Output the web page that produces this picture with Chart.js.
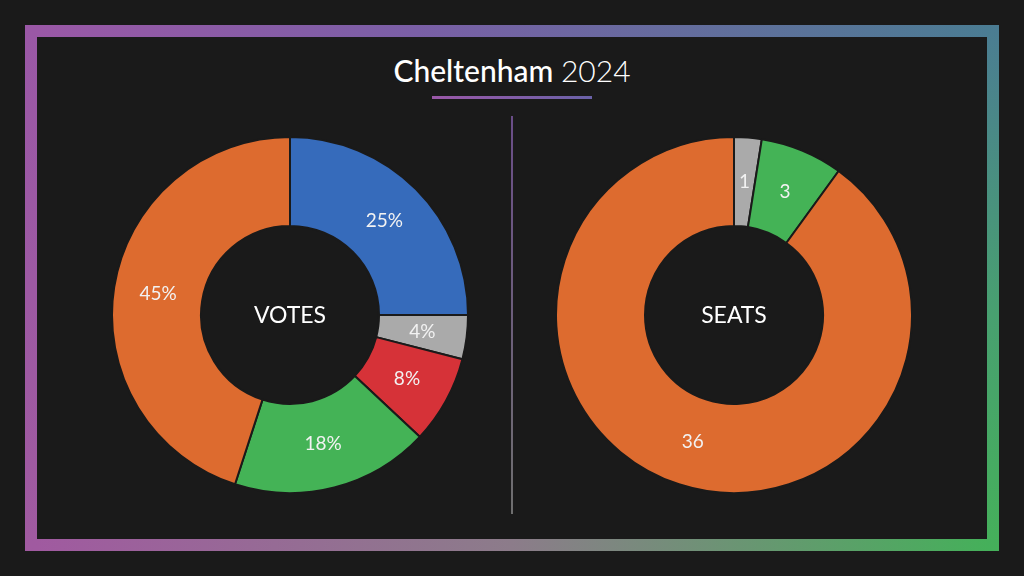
<!DOCTYPE html>
<html>
<head>
<meta charset="utf-8">
<script src="https://cdn.jsdelivr.net/npm/chart.js@4.4.0/dist/chart.umd.min.js"></script>
<style>
  html, body { margin: 0; padding: 0; background: #1a1a1a; }
  body { width: 1024px; height: 576px; position: relative; overflow: hidden; font-family: "Lato", "Open Sans", sans-serif; }
  .edge { position: absolute; }
  .top { left: 37px; top: 25px; width: 950px; height: 12px; background: linear-gradient(90deg, #9a58a6, #7a5fa6 40%, #4b7c93); }
  .bottom { left: 37px; top: 539px; width: 950px; height: 12px; background: linear-gradient(90deg, #a05aa0, #8c7c8a 50%, #45b05a); }
  .left { left: 25px; top: 25px; width: 12px; height: 526px; background: linear-gradient(180deg, #9a58a6, #a05aa0); }
  .right { left: 987px; top: 25px; width: 12px; height: 526px; background: linear-gradient(180deg, #4b7c93, #48a070 55%, #45b05a); }
  .title { position: absolute; left: 0; width: 1024px; top: 52px; text-align: center; color: #fff; font-size: 30px; }
  .title b { font-weight: 500; }
  .title span { font-weight: 300; }
  .rule { position: absolute; left: 432px; top: 96px; width: 160px; height: 3px; background: linear-gradient(90deg, #9a58a8, #6a62a8); }
  .divider { position: absolute; left: 511px; top: 116px; width: 2px; height: 398px; background: linear-gradient(180deg, #6a4d88, #6f6f6f); }
  .chartbox { position: absolute; top: 136px; width: 358px; height: 358px; }
  .center { position: absolute; top: 300px; width: 180px; text-align: center; color: #fff; font-size: 23px; }
</style>
</head>
<body>
<div class="edge top"></div>
<div class="edge bottom"></div>
<div class="edge left"></div>
<div class="edge right"></div>
<div class="title"><b>Cheltenham</b> <span>2024</span></div>
<div class="rule"></div>
<div class="divider"></div>
<div class="chartbox" style="left:111px"><canvas id="votesChart"></canvas></div>
<div class="chartbox" style="left:555px"><canvas id="seatsChart"></canvas></div>
<div class="center" style="left:200px">VOTES</div>
<div class="center" style="left:644px">SEATS</div>
<script>
const voteParties = ['Liberal Democrat', 'Other', 'Labour', 'Green', 'Conservative'];
const voteShares = [25, 4, 8, 18, 45];
const voteColours = ['#366bbb', '#aaaaaa', '#d63238', '#44b356', '#dd6b2f'];

const seatParties = ['Other', 'Green', 'Liberal Democrat'];
const seatCounts = [1, 3, 36];
const seatColours = ['#aaaaaa', '#44b356', '#dd6b2f'];

// draws the value in the middle of each slice
const sliceLabels = {
  id: 'sliceLabels',
  afterDatasetsDraw(chart, args, opts) {
    const ctx = chart.ctx;
    const meta = chart.getDatasetMeta(0);
    const values = chart.data.datasets[0].data;
    ctx.save();
    ctx.fillStyle = '#f2f2f2';
    ctx.font = '19px Lato, "Open Sans", sans-serif';
    ctx.textAlign = 'center';
    ctx.textBaseline = 'middle';
    meta.data.forEach((arc, i) => {
      const p = arc.tooltipPosition();
      ctx.fillText(values[i] + opts.suffix, p.x, p.y);
    });
    ctx.restore();
  }
};

function makeDoughnut(id, labels, values, colours, suffix) {
  return new Chart(document.getElementById(id), {
    type: 'doughnut',
    data: {
      labels: labels,
      datasets: [{
        data: values,
        backgroundColor: colours,
        borderColor: '#1a1a1a',
        borderWidth: 2
      }]
    },
    options: {
      responsive: true,
      maintainAspectRatio: false,
      animation: false,
      cutout: '50%',
      layout: { padding: 0 },
      plugins: {
        legend: { display: false },
        tooltip: { enabled: false },
        sliceLabels: { suffix: suffix }
      }
    },
    plugins: [sliceLabels]
  });
}

makeDoughnut('votesChart', voteParties, voteShares, voteColours, '%');
makeDoughnut('seatsChart', seatParties, seatCounts, seatColours, '');
</script>
</body>
</html>
